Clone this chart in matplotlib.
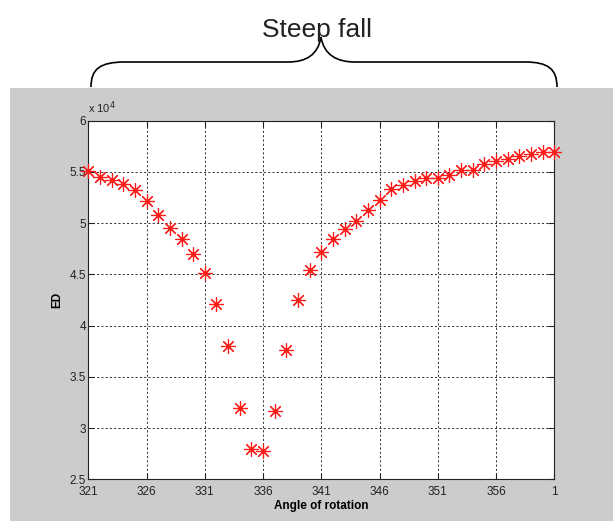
import numpy as np
import matplotlib
matplotlib.use("Agg")
import matplotlib.pyplot as plt
from matplotlib.patches import Rectangle, PathPatch
from matplotlib.path import Path

plt.rcParams['font.family'] = ['Liberation Sans', 'DejaVu Sans']

# Datos (ED en unidades de 1e4)
angulos = np.arange(321, 362)          # 361 se muestra como 1
ed = [5.51, 5.446, 5.424, 5.378, 5.326, 5.219, 5.082, 4.952, 4.845, 4.70,
      4.509, 4.215, 3.80, 3.194, 2.797, 2.78, 3.171, 3.764, 4.248, 4.542,
      4.714, 4.845, 4.943, 5.023, 5.124, 5.229, 5.333, 5.375, 5.414, 5.437,
      5.44, 5.473, 5.515, 5.515, 5.58, 5.609, 5.626, 5.658, 5.674, 5.697,
      5.694]
ticks_x = [321, 326, 331, 336, 341, 346, 351, 356, 361]
ticks_y = [2.5, 3, 3.5, 4, 4.5, 5, 5.5, 6]

W, H = 613, 521
fig = plt.figure(figsize=(W / 100, H / 100), dpi=100)
fig.patch.set_facecolor('white')

# Fondo gris estilo MATLAB
fig.patches.append(Rectangle((10 / W, 0), 1 - 10 / W, (H - 88) / H,
                             transform=fig.transFigure, facecolor='#cccccc',
                             edgecolor='none', zorder=-1))

ax = fig.add_axes([88.3 / W, (H - 479.3) / H, 466 / W, 358.6 / H])
ax.set_facecolor('white')
ax.plot(angulos, ed, linestyle='none', marker=(8, 2, 0), markersize=10.5,
        markeredgewidth=0.85, color='#ff1a1a', clip_on=False, zorder=3)

ax.set_xlim(321, 361)
ax.set_ylim(2.5, 6)
ax.set_xticks(ticks_x)
ax.set_xticklabels([str(a % 360) for a in ticks_x])
ax.set_yticks(ticks_y)
ax.set_yticklabels([f'{v:g}' for v in ticks_y])
ax.grid(True, color='#333333', linestyle=(0, (2.2, 2.2)), linewidth=0.7)
ax.tick_params(direction='in', length=4, width=0.8, top=True, right=True,
               labelsize=8.5, colors='#222222')
ax.tick_params(axis='x', pad=4.5)
ax.tick_params(axis='y', pad=1.5)
for s in ax.spines.values():
    s.set_color('#222222')
    s.set_linewidth(0.8)

ax.set_xlabel('Angle of rotation', fontsize=8.5, fontweight='bold', labelpad=1.5)
ax.set_ylabel('ED', fontsize=8.5, fontweight='bold', labelpad=5)
ax.text(0.0, 1.012, r'x 10$^{4}$', transform=ax.transAxes, fontsize=8,
        ha='left', va='bottom', color='#222222')

# Llave y texto superior
over = fig.add_axes([0, 0, 1, 1], zorder=5)
over.set_xlim(0, W)
over.set_ylim(H, 0)
over.axis('off')
yh = 62
verts = [(91, 87), (91, 69), (100, yh), (125, yh),
         (288, yh),
         (306, yh), (318, 55), (321, 37),
         (324, 55), (337, yh), (355, yh),
         (525, yh),
         (548, yh), (557, 69), (557, 87)]
codes = [Path.MOVETO, Path.CURVE4, Path.CURVE4, Path.CURVE4,
         Path.LINETO,
         Path.CURVE4, Path.CURVE4, Path.CURVE4,
         Path.CURVE4, Path.CURVE4, Path.CURVE4,
         Path.LINETO,
         Path.CURVE4, Path.CURVE4, Path.CURVE4]
over.add_patch(PathPatch(Path(verts, codes), facecolor='none',
                         edgecolor='black', linewidth=1.2))
over.text(317.5, 36.5, 'Steep fall', fontsize=19, ha='center', va='baseline',
          color='#222222')

fig.savefig('out.png', dpi=100)
